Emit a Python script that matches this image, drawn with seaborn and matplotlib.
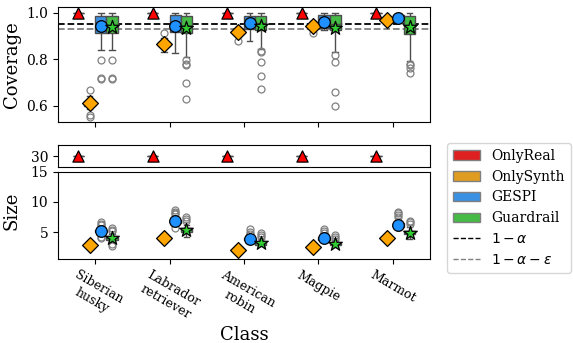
import matplotlib
matplotlib.use("Agg")
import numpy as np
import pandas as pd
import seaborn as sns
import matplotlib.pyplot as plt
from matplotlib.lines import Line2D
from matplotlib.patches import Patch

plt.rcParams["font.family"] = ["DejaVu Serif"]

classes = ["Siberian\nhusky", "Labrador\nretriever", "American\nrobin", "Magpie", "Marmot"]
methods = ["OnlyReal", "OnlySynth", "GESPI", "Guardrail"]
colors = {"OnlyReal": "red", "OnlySynth": "orange", "GESPI": "dodgerblue", "Guardrail": "limegreen"}
markers = {"OnlyReal": "^", "OnlySynth": "D", "GESPI": "o", "Guardrail": "*"}
msizes = {"OnlyReal": 65, "OnlySynth": 65, "GESPI": 70, "Guardrail": 105}

alpha_level = 0.95
alpha_eps_level = 0.93

# ---------------- coverage samples (per class) ----------------
cov_onlyreal = [
    [1.0, 1.0, 1.0, 1.0, 1.0],
    [1.0, 1.0, 1.0, 1.0, 1.0],
    [1.0, 1.0, 1.0, 1.0, 1.0],
    [1.0, 1.0, 1.0, 1.0, 1.0],
    [1.0, 1.0, 1.0, 1.0, 1.0],
]
cov_onlysynth = [
    [0.553, 0.56, 0.585, 0.60, 0.605, 0.61, 0.61, 0.615, 0.62, 0.62, 0.63, 0.64, 0.667],
    [0.833, 0.845, 0.85, 0.855, 0.86, 0.865, 0.865, 0.87, 0.87, 0.875, 0.88, 0.89, 0.915],
    [0.877, 0.895, 0.905, 0.91, 0.912, 0.915, 0.917, 0.92, 0.922, 0.925, 0.93, 0.935, 0.94],
    [0.913, 0.925, 0.932, 0.938, 0.94, 0.943, 0.945, 0.948, 0.95, 0.952, 0.955, 0.96, 0.965],
    [0.955, 0.96, 0.963, 0.965, 0.968, 0.97, 0.972, 0.974, 0.976, 0.978, 0.98, 0.982, 0.985],
]
cov_gespi = [
    [0.715, 0.72, 0.796, 0.84, 0.912, 0.92, 0.93, 0.94, 0.945, 0.95, 0.96, 0.975, 0.985, 0.99, 1.0, 1.0, 1.0],
    [0.829, 0.86, 0.9, 0.917, 0.93, 0.94, 0.945, 0.955, 0.97, 0.99, 1.0, 1.0, 1.0],
    [0.877, 0.9, 0.92, 0.93, 0.945, 0.955, 0.96, 0.97, 0.98, 0.985, 0.99, 1.0, 1.0],
    [0.925, 0.93, 0.933, 0.935, 0.945, 0.955, 0.96, 0.97, 0.98, 0.99, 1.0, 1.0, 1.0],
    [0.955, 0.96, 0.962, 0.965, 0.97, 0.975, 0.978, 0.982, 0.985, 0.99, 0.995, 1.0, 1.0],
]
cov_guardrail = [
    [0.715, 0.72, 0.796, 0.84, 0.912, 0.92, 0.93, 0.935, 0.94, 0.95, 0.96, 0.975, 0.985, 0.99, 1.0, 1.0, 1.0],
    [0.63, 0.70, 0.775, 0.78, 0.795, 0.81, 0.915, 0.92, 0.925, 0.93, 0.935, 0.94, 0.945, 0.95, 0.955,
     0.96, 0.97, 0.975, 0.985, 0.99, 0.99, 0.995, 1.0, 1.0, 1.0],
    [0.67, 0.73, 0.79, 0.83, 0.835, 0.846, 0.927, 0.93, 0.935, 0.94, 0.945, 0.95, 0.955, 0.96, 0.965,
     0.97, 0.975, 0.98, 0.985, 0.99, 0.99, 0.995, 1.0, 1.0, 1.0],
    [0.60, 0.66, 0.79, 0.817, 0.833, 0.925, 0.93, 0.935, 0.94, 0.945, 0.95, 0.955, 0.96, 0.97, 0.98,
     0.99, 0.99, 0.995, 1.0, 1.0, 1.0],
    [0.742, 0.764, 0.775, 0.781, 0.793, 0.908, 0.915, 0.92, 0.925, 0.93, 0.94, 0.95, 0.96, 0.97, 0.98,
     0.988, 0.99, 0.995, 1.0, 1.0, 1.0],
]

# mean coverage (markers)
cov_mean_onlyreal = [1.0, 1.0, 1.0, 1.0, 1.0]
cov_mean_onlysynth = [0.61, 0.865, 0.916, 0.945, 0.971]
cov_mean_gespi = [0.945, 0.945, 0.957, 0.96, 0.978]
cov_mean_guardrail = [0.94, 0.935, 0.945, 0.933, 0.938]

# ---------------- size samples (per class) ----------------
size_onlyreal = [
    [30, 30, 30, 30, 30],
    [30, 30, 30, 30, 30],
    [30, 30, 30, 30, 30],
    [30, 30, 30, 30, 30],
    [30, 30, 30, 30, 30],
]
size_onlysynth = [
    [2.8, 2.85, 2.9, 2.95, 3.0],
    [3.95, 4.0, 4.05, 4.1, 4.15],
    [1.9, 1.95, 2.0, 2.05, 2.1],
    [2.45, 2.5, 2.55, 2.6, 2.65],
    [3.85, 3.9, 3.95, 4.0, 4.05],
]
size_gespi = [
    [4.0, 4.2, 4.6, 4.8, 4.9, 5.0, 5.05, 5.1, 5.15, 5.2, 5.2, 5.25, 5.3, 5.35, 5.38, 5.4, 5.5, 5.7, 6.1, 6.3, 6.6],
    [5.6, 6.0, 6.2, 6.4, 6.45, 6.5, 6.55, 6.6, 6.7, 6.75, 6.8, 6.85, 6.9, 6.92, 6.95, 7.0, 7.2, 8.0, 8.2, 8.4, 8.6],
    [3.2, 3.3, 3.4, 3.5, 3.55, 3.6, 3.65, 3.7, 3.75, 3.8, 3.82, 3.85, 3.88, 3.9, 3.95, 4.0, 4.1, 4.3, 4.7, 5.0, 5.5],
    [3.4, 3.5, 3.55, 3.6, 3.7, 3.75, 3.8, 3.85, 3.9, 3.95, 3.97, 4.0, 4.03, 4.06, 4.1, 4.15, 4.2, 4.4, 4.9, 5.2, 5.5],
    [5.4, 5.6, 5.7, 5.8, 5.85, 5.9, 5.95, 6.0, 6.1, 6.15, 6.2, 6.25, 6.3, 6.35, 6.4, 6.5, 6.8, 7.5, 7.8, 8.1, 8.4],
]
size_guardrail = [
    [2.7, 3.0, 3.4, 3.6, 3.7, 3.75, 3.8, 3.85, 3.9, 3.95, 4.0, 4.03, 4.06, 4.1, 4.15, 4.2, 4.4, 4.6, 5.1, 5.4, 5.7],
    [4.2, 4.5, 4.7, 4.8, 4.9, 5.0, 5.1, 5.15, 5.2, 5.25, 5.3, 5.35, 5.4, 5.45, 5.5, 5.6, 5.8, 6.2, 6.8, 7.2, 7.5],
    [2.6, 2.7, 2.75, 2.8, 2.85, 2.9, 2.95, 3.0, 3.05, 3.1, 3.12, 3.15, 3.2, 3.25, 3.3, 3.4, 3.6, 3.9, 4.2, 4.5, 4.8],
    [2.5, 2.6, 2.65, 2.7, 2.75, 2.8, 2.85, 2.9, 2.95, 3.0, 3.02, 3.05, 3.08, 3.1, 3.15, 3.2, 3.4, 3.6, 3.9, 4.2, 4.5],
    [3.8, 4.0, 4.2, 4.4, 4.5, 4.6, 4.65, 4.7, 4.8, 4.85, 4.9, 4.95, 5.0, 5.05, 5.1, 5.2, 5.5, 5.9, 6.3, 6.6, 6.9],
]

size_mean_onlyreal = [30, 30, 30, 30, 30]
size_mean_onlysynth = [2.9, 4.05, 2.0, 2.55, 3.95]
size_mean_gespi = [5.2, 6.8, 3.8, 3.95, 6.2]
size_mean_guardrail = [4.0, 5.3, 3.1, 3.0, 4.9]

cov_samples = dict(zip(methods, [cov_onlyreal, cov_onlysynth, cov_gespi, cov_guardrail]))
cov_means = dict(zip(methods, [cov_mean_onlyreal, cov_mean_onlysynth, cov_mean_gespi, cov_mean_guardrail]))
size_samples = dict(zip(methods, [size_onlyreal, size_onlysynth, size_gespi, size_guardrail]))
size_means = dict(zip(methods, [size_mean_onlyreal, size_mean_onlysynth, size_mean_gespi, size_mean_guardrail]))


def long_frame(samples, col):
    rows = []
    for m in methods:
        for c, vals in zip(classes, samples[m]):
            for v in vals:
                rows.append({"Class": c, "Method": m, col: v})
    return pd.DataFrame(rows)


cov_df = long_frame(cov_samples, "Coverage")
size_df = long_frame(size_samples, "Size")

W, H = 573, 343
fig = plt.figure(figsize=(W / 100, H / 100), dpi=100)


def px_axes(left, top, right, bottom):
    return fig.add_axes([left / W, 1 - bottom / H, (right - left) / W, (bottom - top) / H])


ax_top = px_axes(58, 7, 430, 122)
ax_mid = px_axes(58, 145, 430, 167)
ax_bot = px_axes(58, 172, 430, 259)

box_kw = dict(hue="Method", hue_order=methods, order=classes, palette=colors, width=0.6,
              linecolor="gray", linewidth=1.0, legend=False,
              flierprops=dict(marker="o", markerfacecolor="none", markeredgecolor="gray",
                              markersize=5, markeredgewidth=0.9))

ax_top.axhline(alpha_level, color="black", ls="--", lw=1.3, zorder=1.5)
ax_top.axhline(alpha_eps_level, color="gray", ls="--", lw=1.3, zorder=1.5)
sns.boxplot(data=cov_df, x="Class", y="Coverage", ax=ax_top, **box_kw)
sns.boxplot(data=size_df, x="Class", y="Size", ax=ax_mid, **box_kw)
sns.boxplot(data=size_df, x="Class", y="Size", ax=ax_bot, **box_kw)

xpos = np.arange(len(classes))
for j, m in enumerate(methods):
    off = (j - 1.5) * 0.15
    for ax, means in ((ax_top, cov_means), (ax_mid, size_means), (ax_bot, size_means)):
        ax.scatter(xpos + off, means[m], marker=markers[m], s=msizes[m], c=colors[m],
                   edgecolors="black", linewidths=0.9, zorder=6, clip_on=True)

ax_top.set_ylim(0.53, 1.025)
ax_top.set_yticks([0.6, 0.8, 1.0])
ax_top.set_xlabel("")
ax_top.set_xticklabels([])
ax_top.set_ylabel("Coverage", fontsize=13)

ax_mid.set_ylim(27.5, 32.5)
ax_mid.set_yticks([30])
ax_mid.set_xlabel("")
ax_mid.set_ylabel("")
ax_mid.tick_params(axis="x", bottom=False, labelbottom=False)

ax_bot.set_ylim(0.5, 15)
ax_bot.set_yticks([5, 10, 15])
ax_bot.set_ylabel("Size", fontsize=13)

for ax in (ax_top, ax_mid, ax_bot):
    ax.set_xlim(-0.5, len(classes) - 0.5)
    ax.tick_params(labelsize=10)

ax_bot.tick_params(axis="x", labelrotation=-30, labelsize=9)
ax_bot.set_xlabel("Class", fontsize=13, labelpad=2)

ax_top.yaxis.set_label_coords(-0.1, 0.5)
ax_bot.yaxis.set_label_coords(-0.1, 0.55)

handles = [Patch(facecolor=sns.desaturate(colors[m], 0.75), edgecolor="gray", label=m) for m in methods]
handles += [Line2D([], [], color="black", ls="--", lw=1.0, label=r"$1-\alpha$"),
            Line2D([], [], color="gray", ls="--", lw=1.0, label=r"$1-\alpha-\varepsilon$")]
fig.legend(handles=handles, loc="upper left", bbox_to_anchor=(447 / W, 1 - 143 / H),
           fontsize=10, frameon=True, borderaxespad=0.0)

fig.savefig("out.png", dpi=100)
